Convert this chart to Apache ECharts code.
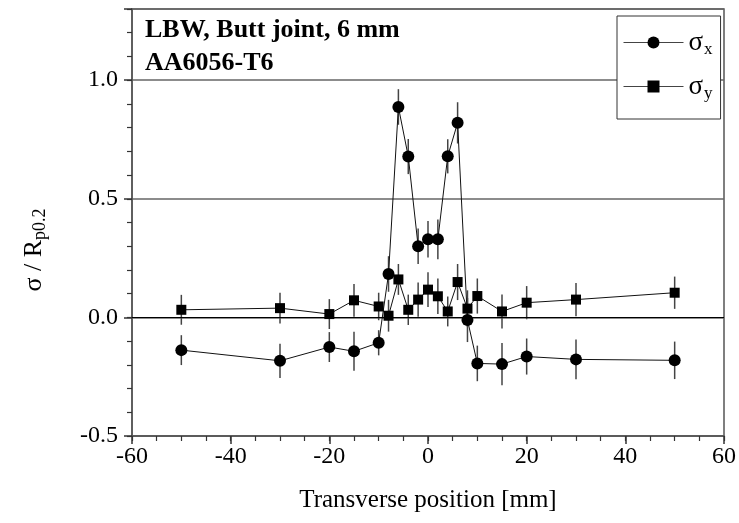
<!DOCTYPE html>
<html>

<head>
    <meta charset="UTF-8">
    <script src="https://cdn.jsdelivr.net/npm/echarts@6/dist/echarts.min.js"></script>
</head>

<body style="margin:0">
    <div id="chart" style="width: 739px;height:523px"></div>
    <script>
    // transverse position [mm]
    var xPos = [-50, -30, -20, -15, -10, -8, -6, -4, -2, 0, 2, 4, 6, 8, 10, 15, 20, 30, 50];
    // sigma_x / Rp0.2 and its error
    var sigmaX = [-0.138, -0.183, -0.125, -0.143, -0.107, 0.183, 0.887, 0.678, 0.300, 0.329, 0.329, 0.679, 0.820, -0.011, -0.194, -0.197, -0.165, -0.177, -0.181];
    var errX = [0.063, 0.072, 0.063, 0.082, 0.053, 0.075, 0.075, 0.074, 0.075, 0.077, 0.084, 0.072, 0.087, 0.093, 0.075, 0.089, 0.076, 0.084, 0.079];
    // sigma_y / Rp0.2 and its error
    var sigmaY = [0.032, 0.039, 0.014, 0.072, 0.046, 0.007, 0.160, 0.032, 0.075, 0.117, 0.089, 0.025, 0.149, 0.037, 0.090, 0.025, 0.062, 0.075, 0.104];
    var errY = [0.063, 0.065, 0.063, 0.069, 0.058, 0.067, 0.065, 0.064, 0.072, 0.073, 0.075, 0.063, 0.076, 0.077, 0.074, 0.072, 0.070, 0.070, 0.068];

    var font = 'Liberation Serif';

    function pairs(ys) {
        return xPos.map(function(x, i) { return [x, ys[i]]; });
    }

    function bars(ys, es) {
        return xPos.map(function(x, i) { return [x, ys[i] - es[i], ys[i] + es[i]]; });
    }

    function errRender(params, api) {
        var lo = api.coord([api.value(0), api.value(1)]);
        var hi = api.coord([api.value(0), api.value(2)]);
        return {
            type: 'line',
            shape: { x1: lo[0], y1: lo[1], x2: hi[0], y2: hi[1] },
            style: { stroke: '#444', lineWidth: 1.5 }
        };
    }

    var option = {
        animation: false,
        grid: {
            left: 132, right: 13, top: 9, bottom: 87,
            show: true, borderColor: '#555', borderWidth: 1.5
        },
        legend: {
            orient: 'vertical',
            left: 617, top: 16,
            padding: [13, 8, 17, 6],
            itemGap: 15,
            itemWidth: 60, itemHeight: 15,
            backgroundColor: '#fff',
            borderColor: '#333', borderWidth: 1,
            lineStyle: { color: '#444', width: 1 },
            data: ['σx', 'σy'],
            formatter: function(name) {
                return '{s|σ}{sub|' + name.slice(1) + '}';
            },
            textStyle: {
                fontFamily: font,
                color: '#000',
                rich: {
                    s: { fontFamily: font, fontSize: 27, color: '#000' },
                    sub: { fontFamily: font, fontSize: 17, color: '#000', padding: [14, 0, 0, 1] }
                }
            }
        },
        xAxis: [{
            type: 'value', min: -60, max: 60, interval: 20,
            name: 'Transverse position [mm]',
            nameLocation: 'middle', nameGap: 52,
            nameTextStyle: { fontFamily: font, fontSize: 25, color: '#000' },
            axisLine: { onZero: false, lineStyle: { color: '#555', width: 1.5 } },
            axisTick: { length: 8, lineStyle: { color: '#333', width: 1.5 } },
            axisLabel: { fontFamily: font, fontSize: 24, color: '#000', margin: 9 },
            splitLine: { show: false }
        }, {
            type: 'value', min: -60, max: 60, interval: 5,
            position: 'bottom',
            axisLine: { show: false, onZero: false },
            axisTick: { length: 5, lineStyle: { color: '#333', width: 1.2 } },
            axisLabel: { show: false },
            splitLine: { show: false }
        }],
        yAxis: [{
            type: 'value', min: -0.5, max: 1.3, interval: 0.5,
            axisLine: { onZero: false, lineStyle: { color: '#555', width: 1.5 } },
            axisTick: { length: 8, lineStyle: { color: '#333', width: 1.5 } },
            axisLabel: {
                fontFamily: font, fontSize: 24, color: '#000', margin: 14,
                formatter: function(v) {
                    if (Math.abs(v * 2 - Math.round(v * 2)) > 1e-6) return '';
                    return v.toFixed(1);
                }
            },
            splitLine: { show: true, lineStyle: { color: '#666', width: 1.5 } }
        }, {
            type: 'value', min: -0.5, max: 1.3, interval: 0.1,
            position: 'left',
            axisLine: { show: false, onZero: false },
            axisTick: { length: 5, lineStyle: { color: '#333', width: 1.2 } },
            axisLabel: { show: false },
            splitLine: { show: false }
        }],
        graphic: [{
            type: 'text', left: 145, top: 17,
            style: { text: 'LBW, Butt joint, 6 mm', fontFamily: font, fontWeight: 'bold', fontSize: 26, fill: '#000' }
        }, {
            type: 'text', left: 145, top: 50,
            style: { text: 'AA6056-T6', fontFamily: font, fontWeight: 'bold', fontSize: 26, fill: '#000' }
        }, {
            type: 'text', x: 34, y: 250, rotation: Math.PI / 2,
            style: {
                text: '{a|σ / R}{b|p0.2}',
                align: 'center', verticalAlign: 'middle',
                rich: {
                    a: { fontFamily: font, fontSize: 26, fill: '#000' },
                    b: { fontFamily: font, fontSize: 18, fill: '#000', padding: [13, 0, 0, 0] }
                }
            }
        }],
        series: [{
            type: 'custom', name: 'errX', renderItem: errRender,
            data: bars(sigmaX, errX), z: 1, silent: true
        }, {
            type: 'custom', name: 'errY', renderItem: errRender,
            data: bars(sigmaY, errY), z: 1, silent: true
        }, {
            type: 'line', name: 'σx', data: pairs(sigmaX),
            symbol: 'circle', symbolSize: 12,
            itemStyle: { color: '#000' },
            lineStyle: { color: '#111', width: 1 },
            z: 3,
            markLine: {
                silent: true, symbol: 'none', label: { show: false },
                lineStyle: { color: '#000', width: 1.2, type: 'solid' },
                data: [{ yAxis: 0 }]
            }
        }, {
            type: 'line', name: 'σy', data: pairs(sigmaY),
            symbol: 'rect', symbolSize: 10,
            itemStyle: { color: '#000' },
            lineStyle: { color: '#111', width: 1 },
            z: 3
        }]
    };

    var myChart = echarts.init(document.getElementById('chart'));
    myChart.setOption(option);
    </script>
</body>

</html>
